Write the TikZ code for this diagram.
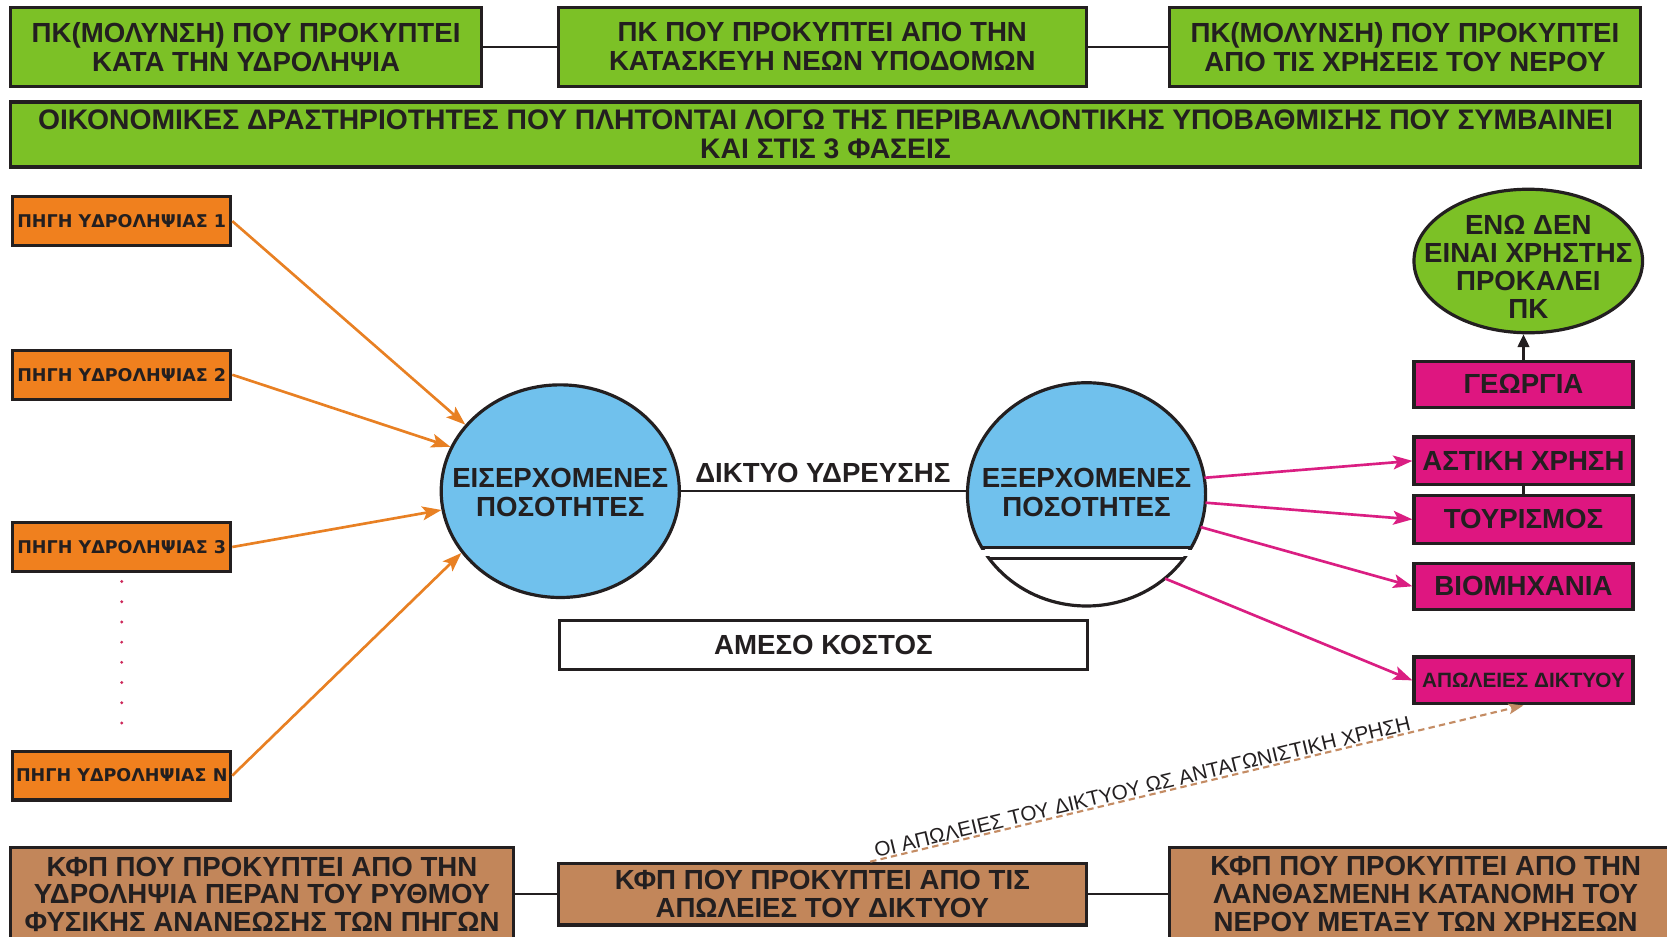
\documentclass[tikz,border=0pt]{standalone}
\usepackage{fontspec}
\setmainfont{Liberation Sans}
\newfontfamily\widefont{DejaVu Sans}
\usetikzlibrary{arrows.meta,shapes.geometric,calc}
\definecolor{grn}{RGB}{124,193,38}
\definecolor{org}{RGB}{240,128,30}
\definecolor{blu}{RGB}{112,193,237}
\definecolor{mag}{RGB}{222,22,128}
\definecolor{brn}{RGB}{194,134,90}
\definecolor{oarr}{RGB}{232,128,35}
\definecolor{marr}{RGB}{218,30,130}
\definecolor{darr}{RGB}{196,140,100}
\definecolor{dotc}{RGB}{205,40,90}
\definecolor{ink}{RGB}{35,31,32}
\tikzset{
  base/.style={draw=ink, line width=3pt, inner sep=0pt, align=center, text=ink},
  gbox/.style={base, fill=grn, font=\bfseries\fontsize{26}{27}\selectfont},
  obox/.style={base, fill=org, minimum width=205pt, minimum height=46pt, font=\widefont\bfseries\fontsize{16.5}{18}\selectfont},
  mbox/.style={base, fill=mag, minimum width=206pt, font=\bfseries\fontsize{26}{27}\selectfont},
  bbox/.style={base, fill=brn, font=\bfseries\fontsize{26}{26}\selectfont},
  ell/.style={ellipse, draw=ink, line width=3pt, inner sep=0pt},
  etext/.style={align=center, text=ink, inner sep=0pt, font=\bfseries\fontsize{26}{27}\selectfont},
  link/.style={draw=ink, line width=2pt},
  oarrow/.style={draw=oarr, line width=2.5pt, -{Stealth[length=18pt,width=13pt,inset=4pt]}},
  marrow/.style={draw=marr, line width=2.5pt, -{Stealth[length=18pt,width=13pt,inset=4pt]}},
}
\begin{document}
\begin{tikzpicture}[x=1pt,y=-1pt]
\useasboundingbox (0,0) rectangle (1568,881);
\clip (0,0) rectangle (1568,881);

% top row
\node[gbox, minimum width=443pt, minimum height=74pt] (t1) at (231.5,44) {ΠΚ(ΜΟΛΥΝΣΗ) ΠΟΥ ΠΡΟΚΥΠΤΕΙ\\ΚΑΤΑ ΤΗΝ ΥΔΡΟΛΗΨΙΑ};
\node[gbox, minimum width=497pt, minimum height=74pt] (t2) at (773.5,44) {ΠΚ ΠΟΥ ΠΡΟΚΥΠΤΕΙ ΑΠΟ ΤΗΝ\\ΚΑΤΑΣΚΕΥΗ ΝΕΩΝ ΥΠΟΔΟΜΩΝ};
\node[gbox, minimum width=443pt, minimum height=74pt] (t3) at (1321.5,44) {ΠΚ(ΜΟΛΥΝΣΗ) ΠΟΥ ΠΡΟΚΥΠΤΕΙ\\ΑΠΟ ΤΙΣ ΧΡΗΣΕΙΣ ΤΟΥ ΝΕΡΟΥ};
\draw[link] (t1) -- (t2);
\draw[link] (t2) -- (t3);
\node[gbox, minimum width=1533pt, minimum height=61pt, font=\bfseries\fontsize{26.6}{27}\selectfont] (t4) at (776.5,126.5) {ΟΙΚΟΝΟΜΙΚΕΣ ΔΡΑΣΤΗΡΙΟΤΗΤΕΣ ΠΟΥ ΠΛΗΤΟΝΤΑΙ ΛΟΓΩ ΤΗΣ ΠΕΡΙΒΑΛΛΟΝΤΙΚΗΣ ΥΠΟΒΑΘΜΙΣΗΣ ΠΟΥ ΣΥΜΒΑΙΝΕΙ\\ΚΑΙ ΣΤΙΣ 3 ΦΑΣΕΙΣ};

% sources
\node[obox] (s1) at (114.5,208) {ΠΗΓΗ ΥΔΡΟΛΗΨΙΑΣ 1};
\node[obox] (s2) at (114.5,352.5) {ΠΗΓΗ ΥΔΡΟΛΗΨΙΑΣ 2};
\node[obox] (s3) at (114.5,514.5) {ΠΗΓΗ ΥΔΡΟΛΗΨΙΑΣ 3};
\node[obox] (sn) at (114.5,729.5) {ΠΗΓΗ ΥΔΡΟΛΗΨΙΑΣ Ν};
\draw[dotc, line width=3pt, line cap=round, dash pattern=on 0pt off 19pt] ([yshift=-8pt]s3.south) -- ([yshift=10pt]sn.north);

% incoming ellipse
\node[ell, fill=blu, minimum width=224pt, minimum height=200pt] (in) at (527,462) {};
\node[etext] (intext) at (527,463) {ΕΙΣΕΡΧΟΜΕΝΕΣ\\ΠΟΣΟΤΗΤΕΣ};

% outgoing ellipse
\node[ellipse, inner sep=0pt, minimum width=224pt, minimum height=210pt] (out) at (1022,465) {};
\begin{scope}
  \clip (880,340) rectangle (1160,515);
  \fill[blu] (out.center) ellipse [x radius=112pt, y radius=105pt];
\end{scope}
\begin{scope}
  \clip (880,340) rectangle (1160,516.5);
  \draw[ink, line width=3pt] (out.center) ellipse [x radius=112pt, y radius=105pt];
\end{scope}
\draw[ink, line width=3pt] (923.5,515) -- (1120.5,515);
\begin{scope}
  \clip (880,523.5) rectangle (1160,600);
  \draw[ink, line width=3pt, fill=white] (out.center) ellipse [x radius=112pt, y radius=105pt];
\end{scope}
\draw[ink, line width=3pt] (930,525) -- (1114,525);
\node[etext] (outtext) at (1022,463) {ΕΞΕΡΧΟΜΕΝΕΣ\\ΠΟΣΟΤΗΤΕΣ};

\draw[link] (in.east) -- (in.east -| out.west);
\node[etext] (net) at (774,445) {ΔΙΚΤΥΟ ΥΔΡΕΥΣΗΣ};
\node[base, fill=white, minimum width=497pt, minimum height=46pt, font=\bfseries\fontsize{26}{27}\selectfont] (cost) at (774.5,607) {ΑΜΕΣΟ ΚΟΣΤΟΣ};

% orange arrows
\draw[oarrow] (s1.east) -- (in.145);
\draw[oarrow] (s2.east) -- (in.158);
\draw[oarrow] (s3.east) -- (in.189);
\draw[oarrow] (sn.east) -- (in.212);

% right column
\node[ell, fill=grn, minimum width=215pt, minimum height=135pt] (eno) at (1437.5,245.5) {};
\node[etext, font=\bfseries\fontsize{26}{26.5}\selectfont] (enotext) at (1437.5,251) {ΕΝΩ ΔΕΝ\\ΕΙΝΑΙ ΧΡΗΣΤΗΣ\\ΠΡΟΚΑΛΕΙ\\ΠΚ};
\node[mbox, minimum height=43pt] (geo) at (1433,361.5) {ΓΕΩΡΓΙΑ};
\node[mbox, minimum height=45pt] (ast) at (1433,433.5) {ΑΣΤΙΚΗ ΧΡΗΣΗ};
\node[mbox, minimum height=45pt] (tour) at (1433,488.5) {ΤΟΥΡΙΣΜΟΣ};
\node[mbox, minimum height=43pt] (bio) at (1433,551.5) {ΒΙΟΜΗΧΑΝΙΑ};
\node[mbox, minimum height=44pt, font=\bfseries\fontsize{19.5}{21}\selectfont] (apo) at (1433,640) {ΑΠΩΛΕΙΕΣ ΔΙΚΤΥΟΥ};
\draw[link, -{Triangle[length=12pt,width=11pt]}] (geo.north) -- (geo.north |- eno.south);
\draw[link] (ast) -- (tour);

% magenta arrows
\draw[marrow] (out.8) -- (ast.west);
\draw[marrow] (out.-4) -- (tour.west);
\draw[marrow] (out.-16) -- (bio.west);
\draw[marrow] (out.-47) -- (apo.west);

% bottom row
\node[bbox, minimum width=473pt, minimum height=88pt] (b1) at (246.5,841) {ΚΦΠ ΠΟΥ ΠΡΟΚΥΠΤΕΙ ΑΠΟ ΤΗΝ\\ΥΔΡΟΛΗΨΙΑ ΠΕΡΑΝ ΤΟΥ ΡΥΘΜΟΥ\\ΦΥΣΙΚΗΣ ΑΝΑΝΕΩΣΗΣ ΤΩΝ ΠΗΓΩΝ};
\node[bbox, minimum width=497pt, minimum height=58pt] (b2) at (773.5,841) {ΚΦΠ ΠΟΥ ΠΡΟΚΥΠΤΕΙ ΑΠΟ ΤΙΣ\\ΑΠΩΛΕΙΕΣ ΤΟΥ ΔΙΚΤΥΟΥ};
\node[bbox, minimum width=482pt, minimum height=88pt] (b3) at (1341,841) {ΚΦΠ ΠΟΥ ΠΡΟΚΥΠΤΕΙ ΑΠΟ ΤΗΝ\\ΛΑΝΘΑΣΜΕΝΗ ΚΑΤΑΝΟΜΗ ΤΟΥ\\ΝΕΡΟΥ ΜΕΤΑΞΥ ΤΩΝ ΧΡΗΣΕΩΝ};
\draw[link] (b1) -- (b2);
\draw[link] (b2) -- (b3);

% dashed arrow
\coordinate (ds) at ($(b2.north west)!0.59!(b2.north east)$);
\draw[darr, line width=2pt, dash pattern=on 6pt off 4pt, -{Stealth[length=14pt,width=10pt,inset=3pt]}] (ds) -- (apo.south)
  node[pos=0.42, sloped, above, inner sep=1pt, text=ink, font=\fontsize{19.5}{20}\selectfont] (lossl) {ΟΙ ΑΠΩΛΕΙΕΣ ΤΟΥ ΔΙΚΤΥΟΥ ΩΣ ΑΝΤΑΓΩΝΙΣΤΙΚΗ ΧΡΗΣΗ};
\end{tikzpicture}
\end{document}
